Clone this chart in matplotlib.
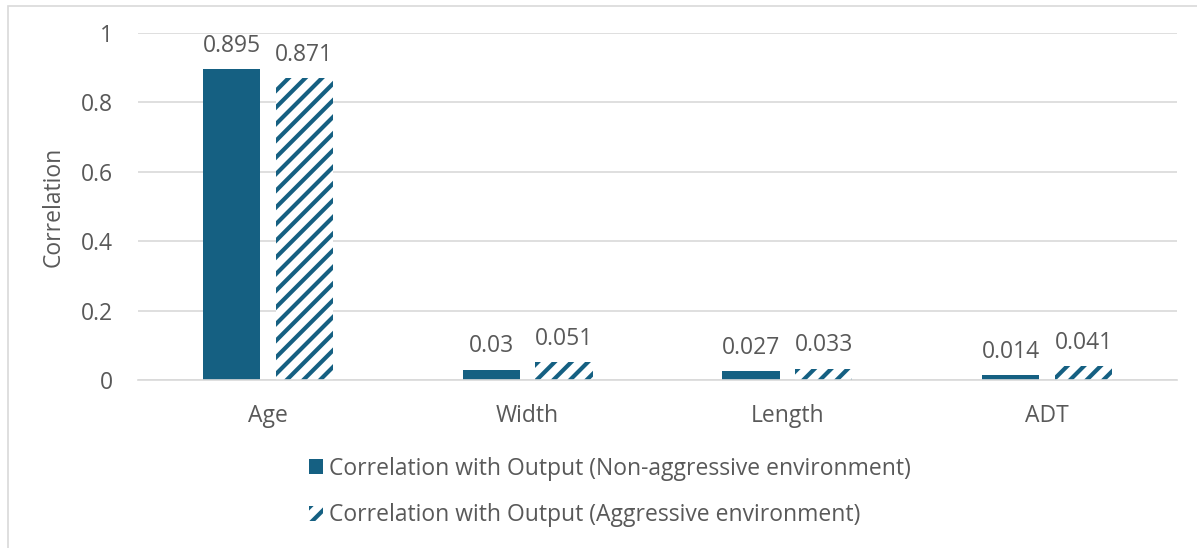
import matplotlib
matplotlib.use('Agg')
import matplotlib.pyplot as plt  # noqa
from matplotlib.patches import Rectangle
import numpy as np

COLOR_BAR = '#156082'
COLOR_TEXT = '#595959'
COLOR_GRID = '#d9d9d9'

categories = ['Age', 'Width', 'Length', 'ADT']
non_aggressive = [0.895, 0.03, 0.027, 0.014]
aggressive = [0.871, 0.051, 0.033, 0.041]
series_labels = [
    'Correlation with Output (Non-aggressive environment)',
    'Correlation with Output (Aggressive environment)',
]
yticks = [0, 0.2, 0.4, 0.6, 0.8, 1]
ytick_labels = ['0', '0.2', '0.4', '0.6', '0.8', '1']

plt.rcParams['font.family'] = ['Open Sans', 'DejaVu Sans']
plt.rcParams['hatch.linewidth'] = 3.0

FONT = 16.5

fig = plt.figure(figsize=(11.97, 5.48), dpi=100)

# chart frame
fig.patches.append(Rectangle((8 / 1197, -0.02), 1.0, 1 - 6 / 548 + 0.02,
                             transform=fig.transFigure, facecolor='white',
                             edgecolor=COLOR_GRID, linewidth=1.2, zorder=-1))

ax = fig.add_axes([138 / 1197, 1 - 380 / 548, 1039 / 1197, 347 / 548])
ax.set_facecolor('none')

x = np.arange(len(categories))
width = 0.22
offset = 0.14

bars1 = ax.bar(x - offset, non_aggressive, width, color=COLOR_BAR,
               label=series_labels[0], zorder=3)
bars2 = ax.bar(x + offset, aggressive, width, facecolor='white',
               edgecolor=COLOR_BAR, hatch='//', linewidth=0,
               label=series_labels[1], zorder=3)

for bars, values in ((bars1, non_aggressive), (bars2, aggressive)):
    for b, v in zip(bars, values):
        ax.annotate('{:g}'.format(v), (b.get_x() + b.get_width() / 2, v),
                    xytext=(0, 8), textcoords='offset points',
                    ha='center', va='bottom', fontsize=FONT, color=COLOR_TEXT)

ax.set_xlim(-0.5, len(categories) - 0.5)
ax.set_ylim(0, 1)
ax.set_yticks(yticks)
ax.set_yticklabels(ytick_labels)
ax.set_xticks(x)
ax.set_xticklabels(categories)
ax.tick_params(axis='both', length=0, labelsize=FONT, colors=COLOR_TEXT)
ax.tick_params(axis='x', pad=17)
ax.tick_params(axis='y', pad=18)
ax.grid(axis='y', color=COLOR_GRID, linewidth=1.2, zorder=0)
for sp in ['left', 'right', 'top']:
    ax.spines[sp].set_visible(False)
ax.spines['bottom'].set_color(COLOR_GRID)
ax.spines['bottom'].set_linewidth(1.2)
ax.spines['bottom'].set_zorder(4)

ax.set_ylabel('Correlation', fontsize=FONT, color=COLOR_TEXT)
ax.yaxis.set_label_coords(-72 / 1039, 0.5)

leg = fig.legend(handles=[bars1, bars2], loc='center',
                 bbox_to_anchor=(610 / 1197, 1 - 492 / 548), ncol=1,
                 frameon=False, fontsize=FONT, handlelength=0.6,
                 handleheight=0.6, handletextpad=0.3, labelspacing=1.0)
for t in leg.get_texts():
    t.set_color(COLOR_TEXT)

fig.savefig('out.png', dpi=100)
